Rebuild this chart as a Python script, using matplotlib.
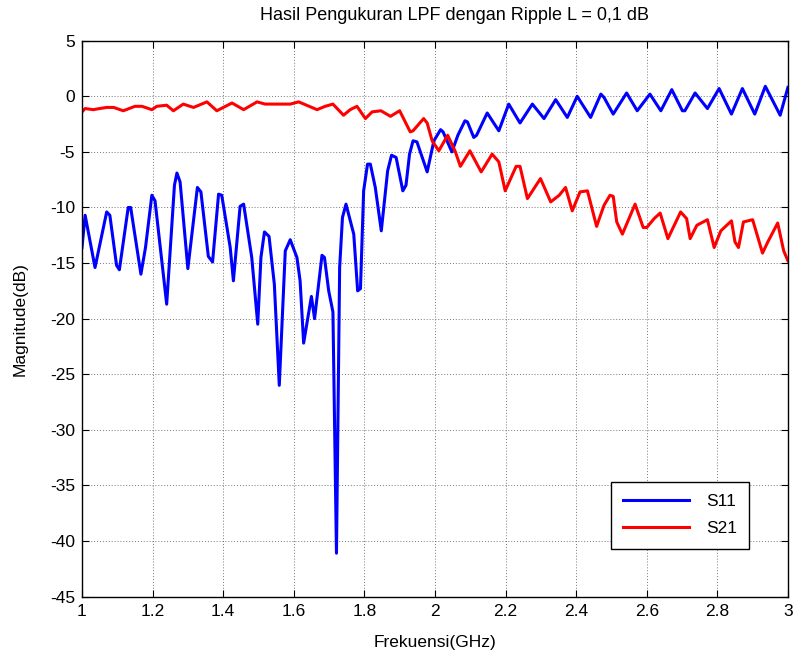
import numpy as np
import matplotlib.pyplot as plt

plt.rcParams['font.family'] = ['Liberation Sans', 'DejaVu Sans']
plt.rcParams['axes.unicode_minus'] = False

# S11
s11_f = [1.000, 1.009, 1.037, 1.070, 1.079, 1.098, 1.106, 1.131, 1.138, 1.167,
         1.180, 1.198, 1.207, 1.240, 1.262, 1.269, 1.278, 1.300, 1.327, 1.337,
         1.358, 1.370, 1.387, 1.396, 1.420, 1.429, 1.448, 1.458, 1.481, 1.498,
         1.507, 1.517, 1.530, 1.545, 1.559, 1.576, 1.590, 1.609, 1.618, 1.628,
         1.650, 1.659, 1.680, 1.687, 1.699, 1.711, 1.721, 1.730, 1.738, 1.748,
         1.770, 1.781, 1.789, 1.798, 1.809, 1.817, 1.831, 1.848, 1.866, 1.877,
         1.890, 1.909, 1.918, 1.928, 1.938, 1.949, 1.978, 1.997, 2.016, 2.023,
         2.048, 2.065, 2.085, 2.092, 2.110, 2.118, 2.148, 2.181, 2.209, 2.241,
         2.276, 2.309, 2.342, 2.375, 2.403, 2.441, 2.470, 2.479, 2.505, 2.543,
         2.573, 2.609, 2.640, 2.671, 2.701, 2.708, 2.737, 2.772, 2.805, 2.840,
         2.871, 2.906, 2.936, 2.978, 3.000]
s11_db = [-13.6, -10.7, -15.4, -10.4, -10.7, -15.2, -15.6, -10.0, -10.0, -16.0,
          -13.6, -8.9, -9.4, -18.7, -8.0, -6.9, -7.7, -15.5, -8.2, -8.6,
          -14.4, -14.9, -8.8, -8.9, -13.6, -16.6, -9.9, -9.7, -14.5, -20.5,
          -14.5, -12.2, -12.6, -16.9, -26.0, -13.9, -12.9, -14.5, -16.6, -22.2,
          -18.0, -20.0, -14.3, -14.5, -17.5, -19.4, -41.1, -15.4, -10.9, -9.7,
          -12.4, -17.5, -17.3, -8.5, -6.1, -6.1, -8.2, -12.1, -6.7, -5.3,
          -5.5, -8.5, -8.0, -5.2, -4.0, -4.1, -6.8, -4.0, -3.0, -3.2,
          -5.0, -3.5, -2.2, -2.3, -3.7, -3.5, -1.5, -3.1, -0.7, -2.4,
          -0.7, -2.0, -0.3, -1.9, 0.0, -1.9, 0.2, -0.1, -1.6, 0.3,
          -1.3, 0.2, -1.3, 0.6, -1.3, -1.3, 0.3, -1.1, 0.7, -1.6,
          0.7, -1.6, 0.9, -1.7, 0.8]

# S21
s21_f = [1.000, 1.009, 1.032, 1.050, 1.070, 1.090, 1.117, 1.150, 1.170, 1.198,
         1.212, 1.240, 1.259, 1.287, 1.316, 1.354, 1.382, 1.425, 1.458, 1.496,
         1.519, 1.590, 1.614, 1.666, 1.689, 1.711, 1.741, 1.760, 1.779, 1.803,
         1.822, 1.847, 1.874, 1.900, 1.930, 1.938, 1.968, 1.978, 1.992, 2.011,
         2.036, 2.058, 2.072, 2.099, 2.131, 2.162, 2.181, 2.199, 2.230, 2.241,
         2.262, 2.299, 2.328, 2.352, 2.370, 2.389, 2.411, 2.432, 2.458, 2.479,
         2.496, 2.505, 2.515, 2.531, 2.567, 2.590, 2.600, 2.621, 2.638, 2.660,
         2.696, 2.713, 2.723, 2.742, 2.772, 2.791, 2.810, 2.840, 2.850, 2.860,
         2.874, 2.900, 2.928, 2.943, 2.971, 2.988, 3.000]
s21_db = [-1.4, -1.1, -1.2, -1.1, -1.0, -1.0, -1.3, -0.9, -0.9, -1.2,
          -0.9, -0.8, -1.3, -0.7, -1.0, -0.5, -1.3, -0.6, -1.2, -0.5,
          -0.7, -0.7, -0.5, -1.2, -0.9, -0.7, -1.7, -1.2, -0.9, -2.0,
          -1.4, -1.3, -1.8, -1.3, -3.2, -3.1, -2.0, -2.4, -4.0, -4.9,
          -3.5, -5.0, -6.3, -4.9, -6.8, -5.2, -5.9, -8.5, -6.3, -6.3,
          -9.2, -7.4, -9.5, -8.9, -8.2, -10.3, -8.6, -8.5, -11.7, -9.8,
          -8.9, -9.0, -11.3, -12.4, -9.7, -11.8, -11.8, -11.0, -10.5, -12.8,
          -10.4, -11.0, -12.8, -11.6, -11.1, -13.6, -12.1, -11.2, -13.1, -13.6,
          -11.3, -11.1, -14.1, -13.1, -11.4, -13.9, -14.8]

xtick_labels = ['1', '1.2', '1.4', '1.6', '1.8', '2', '2.2', '2.4', '2.6', '2.8', '3']

fig = plt.figure(figsize=(7.95, 6.57), dpi=100)
ax = fig.add_axes([0.1031, 0.092, 0.888, 0.846])

ax.plot(s11_f, s11_db, color='#0000ff', lw=2.2, label='S11')
ax.plot(s21_f, s21_db, color='#ff0000', lw=2.2, label='S21')

ax.set_xlim(1, 3)
ax.set_ylim(-45, 5)
ax.set_xticks(np.linspace(1, 3, len(xtick_labels)))
ax.set_xticklabels(xtick_labels)
ax.set_yticks(np.arange(-45, 6, 5))
ax.tick_params(direction='in', length=5, top=True, right=True, labelsize=12.5, width=0.8, pad=5)
ax.grid(True, linestyle=(0, (1, 2)), color='#555555', lw=0.7, alpha=0.8)
for s in ax.spines.values():
    s.set_linewidth(1)

fig.text(0.572, 1 - 15 / 657, 'Hasil Pengukuran LPF dengan Ripple L = 0,1 dB',
         ha='center', va='center', fontsize=13)
ax.set_xlabel('Frekuensi(GHz)', fontsize=12.5)
ax.set_ylabel('Magnitude(dB)', fontsize=12.5)
ax.xaxis.set_label_coords(0.5, -0.083)
ax.yaxis.set_label_coords(-0.088, 0.5)
ax.xaxis.label.set_va('center')
ax.yaxis.label.set_va('center')

leg = ax.legend(loc='upper left', bbox_to_anchor=(0.749, 0.2065), fontsize=12.5,
                fancybox=False, edgecolor='k', framealpha=1, handlelength=3.8,
                handletextpad=1.0, borderpad=0.7, labelspacing=0.7, borderaxespad=0)
leg.get_frame().set_linewidth(1)

fig.savefig('out.png', dpi=100)
